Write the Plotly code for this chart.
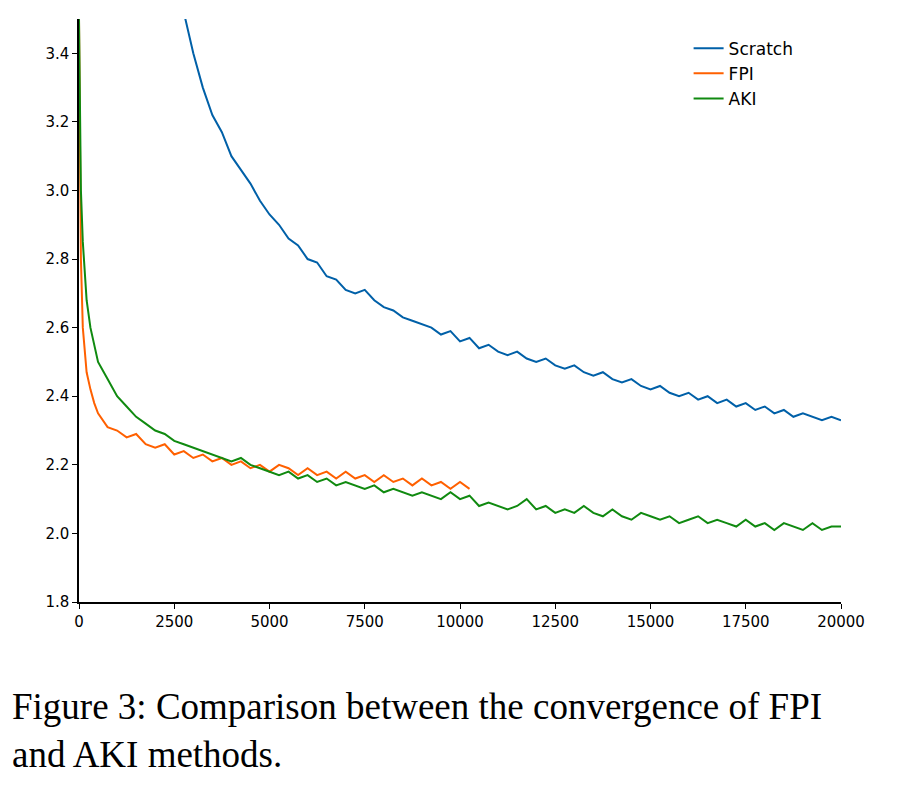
import plotly.graph_objects as go

# Training loss curves
scratch_x = list(range(2750, 20001, 250))
scratch_y = [3.52, 3.40, 3.30, 3.22, 3.17, 3.10, 3.06, 3.02, 2.97, 2.93, 2.90, 2.86, 2.84, 2.80,
             2.79, 2.75, 2.74, 2.71, 2.70, 2.71, 2.68, 2.66, 2.65, 2.63, 2.62, 2.61, 2.60, 2.58,
             2.59, 2.56, 2.57, 2.54, 2.55, 2.53, 2.52, 2.53, 2.51, 2.50, 2.51, 2.49, 2.48, 2.49,
             2.47, 2.46, 2.47, 2.45, 2.44, 2.45, 2.43, 2.42, 2.43, 2.41, 2.40, 2.41, 2.39, 2.40,
             2.38, 2.39, 2.37, 2.38, 2.36, 2.37, 2.35, 2.36, 2.34, 2.35, 2.34, 2.33, 2.34, 2.33]

fpi_x = [0, 25, 50, 100, 150, 200, 300, 400, 500] + list(range(750, 10251, 250))
fpi_y = [3.5, 3.0, 2.8, 2.6, 2.52, 2.47, 2.42, 2.38, 2.35, 2.31, 2.30, 2.28, 2.29, 2.26, 2.25,
         2.26, 2.23, 2.24, 2.22, 2.23, 2.21, 2.22, 2.20, 2.21, 2.19, 2.20, 2.18, 2.20, 2.19, 2.17,
         2.19, 2.17, 2.18, 2.16, 2.18, 2.16, 2.17, 2.15, 2.17, 2.15, 2.16, 2.14, 2.16, 2.14, 2.15,
         2.13, 2.15, 2.13]

aki_x = [0, 25, 50, 100, 150, 200, 300, 400, 500] + list(range(750, 20001, 250))
aki_y = [3.5, 3.2, 3.0, 2.85, 2.75, 2.68, 2.6, 2.55, 2.50, 2.45, 2.40, 2.37, 2.34, 2.32, 2.30,
         2.29, 2.27, 2.26, 2.25, 2.24, 2.23, 2.22, 2.21, 2.22, 2.20, 2.19, 2.18, 2.17, 2.18, 2.16,
         2.17, 2.15, 2.16, 2.14, 2.15, 2.14, 2.13, 2.14, 2.12, 2.13, 2.12, 2.11, 2.12, 2.11, 2.10,
         2.12, 2.10, 2.11, 2.08, 2.09, 2.08, 2.07, 2.08, 2.10, 2.07, 2.08, 2.06, 2.07, 2.06, 2.08,
         2.06, 2.05, 2.07, 2.05, 2.04, 2.06, 2.05, 2.04, 2.05, 2.03, 2.04, 2.05, 2.03, 2.04, 2.03,
         2.02, 2.04, 2.02, 2.03, 2.01, 2.03, 2.02, 2.01, 2.03, 2.01, 2.02, 2.02]

x_ticks = [0, 2500, 5000, 7500, 10000, 12500, 15000, 17500, 20000]
y_ticks = [1.8, 2.0, 2.2, 2.4, 2.6, 2.8, 3.0, 3.2, 3.4]

fig = go.Figure()
fig.add_trace(go.Scatter(x=scratch_x, y=scratch_y, mode="lines", name="Scratch",
                         line=dict(color="#0060a8", width=2)))
fig.add_trace(go.Scatter(x=fpi_x, y=fpi_y, mode="lines", name="FPI",
                         line=dict(color="#ff6000", width=2)))
fig.add_trace(go.Scatter(x=aki_x, y=aki_y, mode="lines", name="AKI",
                         line=dict(color="#108a10", width=2)))

axis_style = dict(showgrid=False, zeroline=False, showline=True, linecolor="black",
                  linewidth=1.5, ticks="outside", ticklen=5, tickcolor="black")
fig.update_xaxes(range=[0, 20000], tickvals=x_ticks, ticktext=[str(t) for t in x_ticks],
                 **axis_style)
fig.update_yaxes(range=[1.8, 3.5], tickvals=y_ticks, tickformat=".1f", **axis_style)

fig.update_layout(
    width=918, height=788,
    margin=dict(l=71, r=85, t=11, b=194),
    plot_bgcolor="white", paper_bgcolor="white",
    font=dict(family="DejaVu Sans", size=15, color="black"),
    legend=dict(x=0.8, y=0.98, xanchor="left", yanchor="top", bgcolor="rgba(0,0,0,0)",
                font=dict(size=17)),
    annotations=[dict(
        text="Figure 3: Comparison between the convergence of FPI<br>and AKI methods.",
        xref="paper", yref="paper", x=-0.09, y=-0.14, xanchor="left", yanchor="top",
        align="left", showarrow=False,
        font=dict(family="Liberation Serif", size=37, color="black"))],
)

fig.write_html("out.html")
